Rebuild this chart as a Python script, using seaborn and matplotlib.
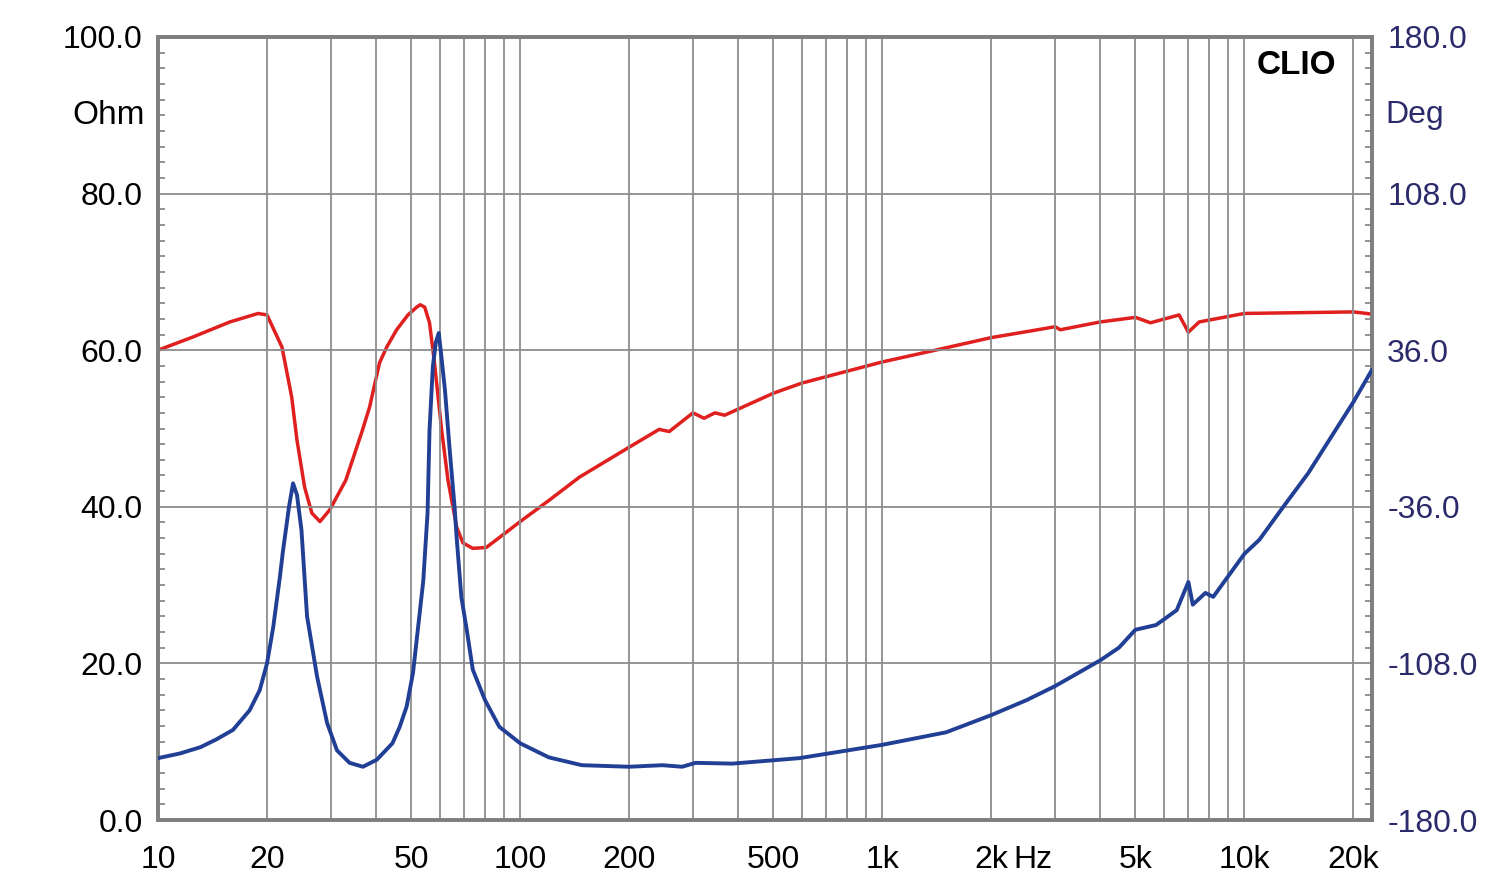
import numpy as np
import pandas as pd
import matplotlib
matplotlib.use("Agg")
import matplotlib.pyplot as plt
import seaborn as sns
from matplotlib.ticker import FixedLocator, NullFormatter, MultipleLocator

# ---- data ----
freq_imp = [10, 11.5, 13.1, 14.5, 16.1, 17.9, 19.1, 20, 20.8, 21.7, 22.1, 23.0, 23.6, 24.2,
            24.9, 25.8, 27.5, 29.3, 31.2, 33.8, 36.8, 40.2, 44.4, 46.5, 48.6, 50.6, 54, 55.5,
            56.2, 57.4, 58.5, 59.6, 60.5, 62, 63.8, 65.9, 66.8, 68.8, 71.2, 74, 80, 87.6, 100,
            120, 148, 200, 247, 280, 305, 385, 590, 1000, 1500, 2000, 2500, 3000, 4000, 4500,
            5000, 5700, 6500, 7000, 7200, 7800, 8200, 10000, 11000, 12800, 15000, 17400,
            20000, 22500]
impedance_ohm = [7.9, 8.5, 9.3, 10.3, 11.5, 14.0, 16.6, 20.0, 24.6, 31.0, 34.1, 40.0, 43.0,
                 41.5, 37.0, 26.0, 18.3, 12.4, 8.9, 7.3, 6.8, 7.7, 9.8, 11.9, 14.5, 18.8, 30.5,
                 39.2, 49.8, 57.9, 61.0, 62.2, 59.5, 54.9, 47.6, 40.0, 36.0, 28.5, 24.3, 19.2,
                 15.3, 11.9, 9.8, 8.0, 7.0, 6.8, 7.0, 6.8, 7.3, 7.2, 7.9, 9.6, 11.2, 13.4, 15.3,
                 17.1, 20.4, 22.0, 24.3, 24.9, 26.8, 30.4, 27.5, 29.0, 28.5, 34.0, 35.8, 40.0,
                 44.3, 49.0, 53.4, 57.5]

freq_phase = [10, 12.5, 15.8, 18.9, 20, 22, 23.4, 24.2, 25.4, 26.6, 28, 29.8, 33, 36.7, 38.4,
              40.9, 42.8, 45.6, 49, 51.8, 53, 54.5, 56.2, 58, 60.7, 63.2, 66.8, 69.5, 74, 80.6,
              89.6, 100, 120, 146, 200, 242, 258, 300, 322, 345, 367, 500, 600, 1000, 1400,
              2000, 2600, 3000, 3100, 4000, 5000, 5500, 6600, 7000, 7500, 10000, 20000, 22500]
phase_deg = [36.0, 42.1, 49.0, 52.9, 52.2, 37.4, 14.4, -5.4, -27.0, -38.9, -42.8, -37.4, -23.8,
             -0.7, 9.9, 30.2, 37.4, 45.4, 52.2, 55.8, 56.9, 55.8, 48.6, 30.2, -0.7, -23.8,
             -45.4, -52.6, -55.1, -54.7, -48.9, -42.8, -33.1, -22.3, -8.6, -0.4, -1.4, 7.2,
             4.7, 7.2, 6.1, 16.2, 20.9, 30.6, 36.0, 41.8, 45.0, 46.8, 45.4, 49.0, 51.1, 48.6,
             52.2, 44.3, 49.0, 52.9, 53.6, 52.6]

x_ticks = [10, 20, 50, 100, 200, 500, 1000, 2000, 5000, 10000, 20000]
x_labels = ["10", "20", "50", "100", "200", "500", "1k", "2k", "5k", "10k", "20k"]
left_ticks = [0, 20, 40, 60, 80, 100]
left_labels = ["0.0", "20.0", "40.0", "60.0", "80.0", "100.0"]
right_ticks = [-180, -108, -36, 36, 108, 180]
right_labels = ["-180.0", "-108.0", "-36.0", "36.0", "108.0", "180.0"]

# ---- styling ----
sns.set_style("white")
plt.rcParams['font.family'] = ['Liberation Sans', 'DejaVu Sans']

RED = "#e01f1f"
BLUE = "#213f94"
NAVY = "#2b2b6b"
GRID = "#8c8c8c"
SPINE = "#7f7f7f"

fig = plt.figure(figsize=(15, 8.94), dpi=100)
ax = fig.add_axes([158/1500, 1-820/894, (1372-158)/1500, (820-37)/894])
ax2 = ax.twinx()

df_imp = pd.DataFrame({"f": freq_imp, "v": impedance_ohm})
df_ph = pd.DataFrame({"f": freq_phase, "v": phase_deg})

sns.lineplot(data=df_imp, x="f", y="v", ax=ax, color=BLUE, linewidth=2.8, sort=False, zorder=3)
sns.lineplot(data=df_ph, x="f", y="v", ax=ax2, color=RED, linewidth=2.5, sort=False, zorder=3)

ax.set_xscale("log")
ax.set_xlim(10, 22500)
ax.set_ylim(0, 100)
ax2.set_ylim(-180, 180)
ax.set_xlabel("")
ax.set_ylabel("")
ax2.set_ylabel("")

# grid
minor_x = [m * 10**e for e in range(1, 5) for m in range(2, 10) if m * 10**e < 22500]
ax.xaxis.set_major_locator(FixedLocator(x_ticks))
ax.xaxis.set_minor_locator(FixedLocator(minor_x))
ax.set_xticklabels(x_labels)
ax.xaxis.set_minor_formatter(NullFormatter())
ax.grid(True, which="both", axis="x", color=GRID, linewidth=1.3)
ax.set_yticks(left_ticks)
ax.set_yticklabels(left_labels)
ax.yaxis.set_minor_locator(MultipleLocator(2))
ax.grid(True, which="major", axis="y", color=GRID, linewidth=1.3)
ax.set_axisbelow(True)

ax2.set_yticks(right_ticks)
ax2.set_yticklabels(right_labels, color=NAVY)
ax2.yaxis.set_minor_locator(MultipleLocator(7.2))

ax.tick_params(axis="x", which="both", length=0, labelsize=23, pad=18, colors="black")
ax.tick_params(axis="y", which="major", length=0, labelsize=23, pad=11, colors="black")
ax.tick_params(axis="y", which="minor", length=5, width=1.2, direction="in", color=SPINE)
ax2.tick_params(axis="y", which="major", length=0, labelsize=23, pad=11, labelcolor=NAVY)
ax2.tick_params(axis="y", which="minor", length=5, width=1.2, direction="in", color=SPINE)

for a in (ax, ax2):
    for s in a.spines.values():
        s.set_visible(True)
        s.set_color(SPINE)
        s.set_linewidth(2.6)

ax.set_zorder(ax2.get_zorder() + 1)
ax.patch.set_visible(False)

# labels
ax.text(-0.011, 0.900, "Ohm", transform=ax.transAxes, ha="right", va="center",
        fontsize=24, color="black")
ax2.text(1.011, 0.900, "Deg", transform=ax2.transAxes, ha="left", va="center",
         fontsize=23, color=NAVY)
ax.text(0.938, 0.964, "CLIO", transform=ax.transAxes, ha="center", va="center",
        fontsize=24, fontweight="bold", color="black")
ax.annotate("Hz", xy=(2000, 0), xycoords=("data", "axes fraction"),
            xytext=(16, -18), textcoords="offset points", ha="left", va="top",
            fontsize=23, color="black", annotation_clip=False)

fig.savefig("out.png", dpi=100, facecolor="white")
